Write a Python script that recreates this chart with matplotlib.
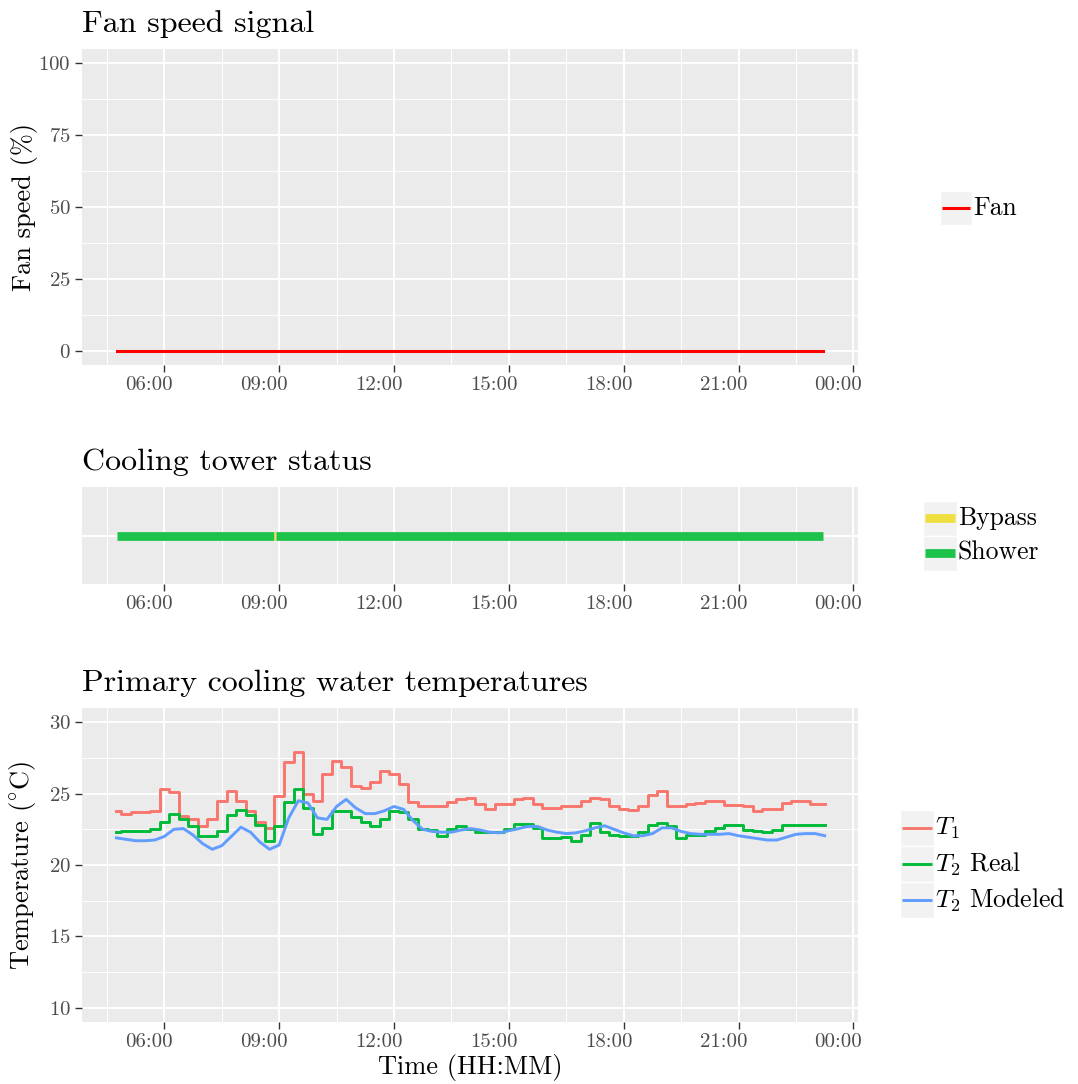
import numpy as np
import matplotlib.pyplot as plt
from matplotlib.patches import Rectangle
from matplotlib.lines import Line2D
from matplotlib.transforms import ScaledTranslation

plt.rcParams['font.family'] = ['cmr10', 'DejaVu Serif']
plt.rcParams['mathtext.fontset'] = 'cm'
plt.rcParams['axes.formatter.use_mathtext'] = True

# sample grid: every 15 min from 04:45 to 23:15 (hours)
times = np.arange(4.75, 23.26, 0.25)

t1 = [23.8, 23.6, 23.7, 23.7, 23.75,
      25.3, 25.1, 23.45, 23.2,
      22.7, 23.2, 24.5, 25.2,
      24.5, 23.8, 23.0, 22.6,
      24.8, 27.2, 27.9, 25.0,
      24.5, 26.4, 27.3, 26.9,
      25.55, 25.4, 25.85, 26.6,
      26.4, 25.7, 24.4, 24.1,
      24.1, 24.1, 24.4, 24.6,
      24.7, 24.3, 23.9, 24.3,
      24.3, 24.6, 24.7, 24.3,
      24.0, 24.0, 24.1, 24.15,
      24.45, 24.7, 24.6, 24.1,
      23.9, 23.85, 24.15, 24.9,
      25.2, 24.15, 24.15, 24.25,
      24.35, 24.5, 24.5, 24.2,
      24.2, 24.1, 23.8, 23.9,
      23.9, 24.35, 24.5, 24.5,
      24.3, 24.3]

t2_real = [22.3, 22.4, 22.4, 22.4, 22.5,
           23.0, 23.55, 23.2, 22.7,
           22.0, 22.0, 22.4, 23.5,
           23.85, 23.5, 22.8, 21.7,
           22.7, 24.4, 25.3, 24.0,
           22.15, 22.6, 23.8, 23.8,
           23.35, 23.0, 22.75, 23.2,
           23.8, 23.7, 23.2, 22.5,
           22.45, 22.05, 22.5, 22.7,
           22.55, 22.3, 22.3, 22.3,
           22.5, 22.85, 22.85, 22.6,
           21.9, 21.9, 21.95, 21.7,
           22.1, 22.95, 22.3, 22.1,
           22.0, 22.0, 22.3, 22.8,
           22.95, 22.75, 21.9, 22.1,
           22.1, 22.35, 22.6, 22.8,
           22.8, 22.45, 22.35, 22.3,
           22.45, 22.8, 22.8, 22.8,
           22.8, 22.8]

t2_model = [21.9, 21.8, 21.7, 21.7, 21.75,
            22.0, 22.5, 22.55, 22.1,
            21.5, 21.1, 21.35, 22.0,
            22.65, 22.3, 21.6, 21.1,
            21.4, 23.3, 24.5, 24.35,
            23.3, 23.2, 24.1, 24.6,
            24.0, 23.6, 23.6, 23.8,
            24.1, 23.9, 23.1, 22.5,
            22.35, 22.3, 22.3, 22.45,
            22.55, 22.45, 22.3, 22.25,
            22.4, 22.55, 22.7, 22.7,
            22.45, 22.3, 22.2, 22.25,
            22.4, 22.6, 22.75, 22.5,
            22.25, 22.05, 22.05, 22.2,
            22.6, 22.6, 22.35, 22.2,
            22.15, 22.15, 22.15, 22.2,
            22.05, 21.95, 21.85, 21.75,
            21.75, 21.95, 22.15, 22.2,
            22.2, 22.05]

fan_times = [4.77, 23.2]
fan_speed = [0, 0]

status_start = [4.77, 8.87, 8.91]
status_end = [8.87, 8.91, 23.2]
status = ['Shower', 'Bypass', 'Shower']
status_colors = {'Bypass': '#EFE040', 'Shower': '#1DC24A'}

W, H = 1078, 1084
fig = plt.figure(figsize=(W / 100, H / 100), dpi=100)


def px_box(l, t, r, b):
    return [l / W, 1 - b / H, (r - l) / W, (b - t) / H]


def style(ax):
    ax.set_facecolor('#EBEBEB')
    for s in ax.spines.values():
        s.set_visible(False)
    ax.set_xlim(3.85, 24.12)
    ax.set_xticks([6, 9, 12, 15, 18, 21, 24])
    ax.set_xticks([4.5, 7.5, 10.5, 13.5, 16.5, 19.5, 22.5], minor=True)
    ax.set_xticklabels(['%02d:00' % (h % 24) for h in [6, 9, 12, 15, 18, 21, 24]])
    ax.grid(which='major', color='white', lw=1.4)
    ax.grid(which='minor', color='white', lw=0.7)
    ax.set_axisbelow(True)
    ax.tick_params(which='major', length=5, width=1, color='#333333',
                   labelcolor='#4D4D4D', labelsize=15, pad=3)
    ax.tick_params(which='minor', length=0)
    # tick labels sit a little left of their ticks in the original
    for tk in ax.xaxis.get_major_ticks():
        tk.label1.set_transform(tk.label1.get_transform() +
                                ScaledTranslation(-15 / 100, 0, fig.dpi_scale_trans))


def key(cx, cy, w, h, color, lw, label):
    fig.add_artist(Rectangle(((cx - w / 2) / W, 1 - (cy + h / 2) / H), w / W, h / H,
                             transform=fig.transFigure, facecolor='#F2F2F2',
                             edgecolor='white', lw=1))
    fig.add_artist(Line2D([(cx - w / 2 + 2) / W, (cx + w / 2 - 2) / W], [1 - cy / H] * 2,
                          color=color, lw=lw, solid_capstyle='butt',
                          transform=fig.transFigure))
    fig.text((cx + w / 2 + 1) / W, 1 - cy / H, label, va='center', ha='left', fontsize=18.5)


# Fan speed
ax1 = fig.add_axes(px_box(82, 49, 858, 365))
style(ax1)
ax1.plot(fan_times, fan_speed, color='#FF0000', lw=2.2)
ax1.set_ylim(-5, 105)
ax1.set_yticks([0, 25, 50, 75, 100])
ax1.set_yticks([12.5, 37.5, 62.5, 87.5], minor=True)
ax1.set_ylabel('Fan speed (%)', fontsize=19)
ax1.yaxis.set_label_coords(-0.057, 0.5)
ax1.set_title('Fan speed signal', loc='left', fontsize=23, pad=12)
key(956, 208, 32, 34, '#FF0000', 2.2, 'Fan')

# Cooling tower status
ax2 = fig.add_axes(px_box(82, 487, 858, 584))
style(ax2)
for s0, s1, st in zip(status_start, status_end, status):
    ax2.hlines(1, s0, s1, color=status_colors[st], lw=6.3)
ax2.set_ylim(0.4, 1.6)
ax2.set_yticks([1])
ax2.set_yticklabels([''])
ax2.tick_params(axis='y', length=0)
ax2.set_title('Cooling tower status', loc='left', fontsize=23, pad=12)
key(940, 518, 34, 35, status_colors['Bypass'], 6.3, 'Bypass')
key(940, 553, 34, 35, status_colors['Shower'], 6.3, 'Shower')

# Temperatures
ax3 = fig.add_axes(px_box(82, 708, 858, 1022))
style(ax3)
ax3.plot(times, t1, color='#F8766D', lw=2.1, drawstyle='steps-mid')
ax3.plot(times, t2_real, color='#00BA38', lw=2.1, drawstyle='steps-mid')
ax3.plot(times, t2_model, color='#619CFF', lw=2.1)
ax3.set_ylim(9, 31)
ax3.set_yticks([10, 15, 20, 25, 30])
ax3.set_yticks([12.5, 17.5, 22.5, 27.5], minor=True)
ax3.set_ylabel(r'Temperature ($^{\circ}$C)', fontsize=19)
ax3.yaxis.set_label_coords(-0.057, 0.5)
ax3.set_xlabel('Time (HH:MM)', fontsize=19, labelpad=2)
ax3.set_title('Primary cooling water temperatures', loc='left', fontsize=23, pad=12)
key(917, 828, 34, 36, '#F8766D', 2.1, r'$T_1$')
key(917, 864, 34, 36, '#00BA38', 2.1, r'$T_2$ Real')
key(917, 900, 34, 36, '#619CFF', 2.1, r'$T_2$ Modeled')

fig.savefig('out.png', dpi=100)
